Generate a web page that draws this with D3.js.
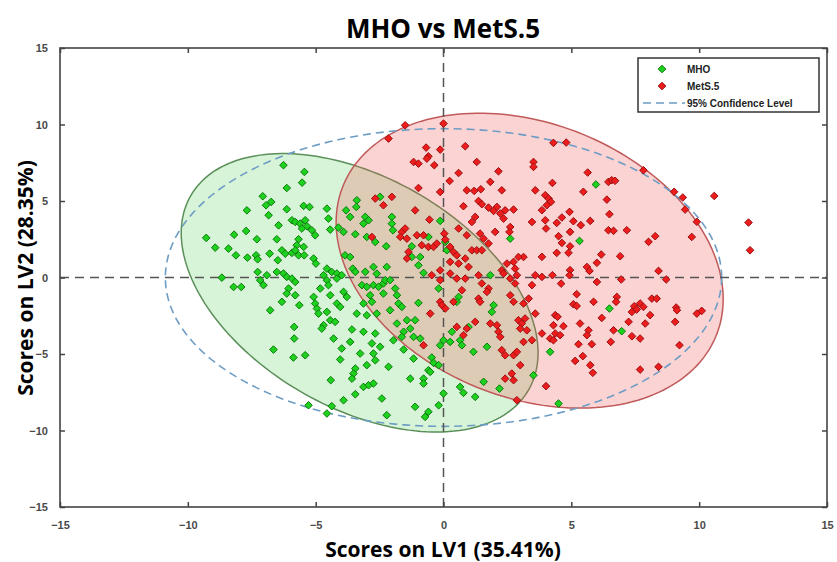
<!DOCTYPE html>
<html>
<head>
<meta charset="utf-8">
<script src="https://cdn.jsdelivr.net/npm/d3@7"></script>
<style>
  body { margin: 0; background: #fff; }
  svg { display: block; }
</style>
</head>
<body>
<div id="chart"></div>
<script>
var svgWidth = 837;
var svgHeight = 562;

// tick values on both axes
var xTicks = [-15, -10, -5, 0, 5, 10, 15];
var yTicks = [-15, -10, -5, 0, 5, 10, 15];

// legend entries
var legendLabels = ["MHO", "MetS.5", "95% Confidence Level"];

// ellipses: [cx, cy, sxx, syy, sxy] in score units
var mhoEllipse = [-3.28, -1.0, 48.7, 82.8, -27.3];
var metsEllipse = [3.37, 1.10, 57.3, 92.9, -19.0];
// 95% confidence: [cx, cy, radius LV1, radius LV2]
var confEllipse = [0, 0, 10.88, 9.73];

// scores [LV1, LV2]
var mhoScores = [
  [-6.26,7.34],[-5.44,6.90],[-5.53,6.20],[-6.13,5.85],[-7.07,5.31],[-6.74,4.94],[-6.94,4.72],[-7.69,4.39],
  [-6.84,4.07],[-6.13,4.46],[-5.47,4.68],[-5.24,4.61],[-4.56,4.50],[-4.50,3.85],[-3.81,4.39],[-3.65,3.96],
  [-3.39,5.05],[-3.41,4.61],[-6.45,3.41],[-5.93,3.74],[-5.80,3.63],[-5.61,3.52],[-5.41,3.74],[-5.34,3.35],
  [-5.54,3.20],[-5.15,3.09],[-5.02,2.76],[-4.43,3.13],[-4.11,3.26],[-3.91,2.98],[-3.45,2.83],[-9.28,2.59],
  [-8.19,2.80],[-7.72,3.04],[-7.30,2.50],[-6.52,2.50],[-5.67,2.50],[-5.74,2.11],[-5.47,2.00],[-8.93,1.95],
  [-8.41,1.89],[-8.12,1.45],[-7.67,1.30],[-7.33,1.45],[-7.27,1.19],[-6.80,1.56],[-6.32,1.78],[-6.19,1.56],
  [-5.93,1.61],[-5.80,1.78],[-5.67,1.45],[-5.45,1.45],[-6.48,1.13],[-5.08,1.24],[-4.99,0.91],[-4.56,0.58],
  [-4.37,0.36],[-4.17,0.26],[-3.85,1.45],[-3.65,1.34],[-3.55,0.58],[-7.27,0.36],[-6.91,0.15],[-6.52,0.36],
  [-6.26,0.26],[-6.13,0.04],[-5.93,-0.07],[-5.80,-0.29],[-8.67,-0.01],[-8.21,-0.62],[-7.91,-0.62],[-7.17,-0.18],
  [-4.69,0.15],[-4.56,-0.18],[-4.17,-0.07],[-3.98,0.15],
  [-7.04,-0.50],[-6.06,-0.72],[-6.13,-1.05],[-5.80,-1.16],[-6.32,-1.59],[-5.64,-1.81],[-6.78,-2.14],[-5.08,-1.27],
  [-4.82,-0.72],[-4.50,-0.50],[-4.43,-1.16],[-5.02,-1.70],[-4.95,-2.03],[-4.89,-2.36],[-4.56,-2.25],[-4.17,-1.70],
  [-4.04,-1.92],[-3.91,-0.94],[-3.78,-1.27],[-4.43,-2.79],[-4.24,-2.90],[-4.69,-3.12],[-4.76,-3.34],[-3.39,-2.36],
  [-3.58,-3.40],[-5.84,-3.23],[-5.84,-3.99],[-4.30,-3.99],[-3.65,-4.21],[-3.98,-4.64],[-6.65,-4.71],[-5.87,-5.23],
  [-5.41,-5.08],[-4.04,-5.36],[-3.45,-5.95],[-3.52,-6.28],[-3.58,-6.61],[-4.41,-6.71],[-3.45,-7.63],[-3.91,-8.02],
  [-4.37,-8.41],[-5.28,-8.35],[-4.56,-8.89],
  [-3.06,3.96],[-2.93,3.74],[-3.13,3.52],[-2.48,5.27],[-2.02,3.96],[-2.02,3.52],[-1.98,3.09],[-3.00,2.65],
  [-2.67,2.32],[-2.24,2.04],[-1.24,2.04],[-1.24,1.34],[-0.91,1.34],[-0.98,0.80],[-0.78,0.30],[-0.59,2.65],
  [-0.13,3.70],[0.07,2.32],[0.13,1.78],[-2.74,0.69],[-2.22,0.69],[-2.61,0.25],[2.61,2.54],
  [-3.45,0.37],[-3.06,0.37],[-3.19,-0.50],[-3.00,-0.61],[-2.74,-0.50],[-2.54,-0.61],[-2.35,-0.39],[-2.28,-0.17],
  [-2.09,-0.17],[-2.35,-1.05],[-1.89,-0.72],[-1.82,-1.16],[-2.87,-1.16],[-2.80,-1.59],[-3.13,-1.70],[-1.76,-1.70],
  [-1.63,-1.92],[-0.98,-1.66],[-0.19,-0.72],[-2.09,-2.14],[-3.00,-2.47],[-2.61,-2.36],[-1.82,-3.01],[-1.11,-2.79],
  [-1.43,-2.79],[-1.30,-3.34],[-3.13,-3.55],[-2.67,-3.66],[-1.56,-3.55],[-1.63,-3.88],[-1.96,-4.10],[-1.17,-3.88],
  [-0.91,-3.99],[-2.80,-4.31],[-2.48,-4.53],[-1.56,-4.71],[-3.26,-4.97],[-2.74,-4.97],[-2.67,-5.41],[-3.00,-5.73],
  [-1.17,-5.30],[-0.46,-5.23],[-0.39,-5.58],[-0.19,-5.73],[-0.59,-6.06],[-0.52,-6.17],[-0.13,-4.43],[0.00,-4.10],
  [0.33,-3.55],[0.26,-4.21],[0.65,-4.10],[0.72,-4.43],[0.59,-1.27],[0.52,-1.59],[0.98,-3.23],[1.17,-4.86],
  [1.70,-4.53],[1.96,-1.81],[1.89,-2.25],[1.83,0.15],[-3.13,-7.15],[-2.93,-7.04],[-2.74,-6.93],[-2.15,-5.84],
  [-1.30,-6.61],[-0.78,-6.61],[-0.78,-6.93],[0.00,-7.58],[0.65,-7.15],[0.78,-7.54],[1.24,-7.80],[1.57,-6.82],
  [2.19,-7.26],[-2.41,-7.91],[-1.11,-8.45],[-0.19,-8.35],[-0.59,-8.78],[-0.72,-9.11],[-2.22,-9.00],[3.52,-6.39],
  [5.96,6.08],[5.32,2.39],[6.49,-2.03],[6.97,-3.51],[4.17,-4.86],[4.50,-8.24]
];

var metsScores = [
  [-1.50,9.95],[0.00,10.06],[-2.15,9.08],[-0.68,8.49],[-0.13,8.36],[0.85,8.58],[-0.59,7.92],[-0.65,7.77],
  [-1.17,7.55],[-0.98,7.44],[-0.36,7.34],[1.30,7.55],[3.52,7.55],[3.52,7.23],[0.59,6.83],[2.15,6.94],
  [0.24,6.31],[1.83,6.25],[-0.98,5.85],[-0.13,5.59],[0.91,5.70],[1.20,5.66],[1.46,5.77],[2.28,5.70],
  [3.59,5.70],[-2.67,5.16],[-2.35,4.72],[-2.02,5.27],[1.37,5.00],[1.50,4.79],[0.78,4.66],[1.76,4.57],
  [2.09,4.61],[1.96,4.35],[2.41,4.39],[2.74,4.44],[2.22,4.18],[2.35,3.85],[3.46,3.63],[-1.11,4.39],
  [-0.55,3.78],[1.24,3.96],[1.11,3.63],[0.59,3.20],[0.91,2.76],[1.43,2.87],[1.57,2.54],[1.76,2.22],
  [2.02,2.98],[2.61,3.30],[2.58,2.98],[-1.63,2.98],[-1.50,3.20],[-1.43,2.54],[-1.69,2.65],[-2.80,2.65],
  [-1.04,2.76],[-0.78,2.76],[-0.85,2.11],[-0.59,2.00],[-0.39,2.00],[-0.26,2.22],[0.03,2.87],[0.07,2.48],
  [0.26,2.00],[0.39,1.67],[0.52,1.45],[0.26,1.02],[0.59,0.91],[0.85,1.24],[0.98,0.69],[-1.37,1.67],
  [-1.43,1.24],[1.11,1.78],[1.30,1.78],[1.50,1.78],[-0.13,0.47],[2.28,0.47],[2.48,0.91],[2.74,1.02],
  [2.80,0.58],[3.13,1.34],[2.93,1.34],
  [-0.46,0.15],[-0.13,-0.17],[0.26,0.26],[0.52,-0.07],[0.85,-0.07],[1.37,0.15],[1.50,-0.39],[1.76,-0.72],
  [1.70,-0.94],[2.35,0.26],[2.61,-0.07],[2.80,-0.39],[2.87,0.15],[3.59,0.15],[3.46,-0.50],[0.72,-0.83],
  [0.39,-1.59],[-0.13,-1.59],[-0.06,-1.81],[0.07,-2.03],[-0.52,-2.36],[1.37,-1.38],[1.43,-1.59],[2.61,-1.16],
  [2.74,-1.59],[3.13,-1.70],[3.33,-1.38],[3.59,-2.36],[1.24,-2.90],[0.52,-3.23],[0.91,-3.34],[0.78,-3.77],
  [1.83,-3.01],[2.09,-3.12],[2.15,-3.55],[2.22,-3.88],[2.93,-2.79],[3.06,-3.01],[3.19,-2.68],[3.00,-3.34],
  [3.26,-3.45],[3.13,-4.21],[2.28,-4.75],[2.41,-5.08],[2.74,-5.08],[2.87,-4.86],[3.00,-5.73],[2.67,-6.28],
  [2.74,-6.71],[2.41,-6.61],[2.87,-8.02],[-0.78,-4.43],[3.46,-4.10],
  [4.30,8.80],[4.80,8.82],[5.64,6.86],[4.26,6.18],[5.47,5.60],[6.45,6.25],[6.58,6.36],[6.71,6.32],
  [6.39,5.09],[7.82,7.01],[9.02,5.60],[9.36,5.23],[9.45,4.44],[9.91,3.64],[10.59,5.33],[11.93,3.59],
  [11.99,1.78],[9.71,2.65],[8.28,2.70],[8.02,2.33],[6.49,4.14],[6.45,3.09],[6.65,3.05],[7.17,3.09],
  [5.74,3.70],[5.37,3.42],[5.08,3.68],[4.93,4.29],[4.63,3.92],[4.43,3.57],[3.98,3.74],[4.01,3.20],
  [3.98,5.38],[4.11,5.16],[4.20,4.94],[4.04,4.72],[3.85,4.40],[4.95,2.98],[4.50,2.70],[4.63,2.26],
  [4.95,2.04],[4.43,1.61],[4.89,1.61],[3.85,1.35],[6.17,1.50],[6.00,0.96],[5.61,0.69],[5.71,0.43],
  [6.91,1.39],[4.95,0.48],[4.93,0.15],[4.26,0.15],[3.85,0.04],[4.60,-0.40],[6.00,-0.29],[6.95,-0.13],
  [8.71,-0.13],[8.41,0.43],
  [5.21,-1.09],[5.08,-1.75],[5.21,-1.86],[5.87,-1.59],[6.78,-1.27],[6.75,-1.59],[7.46,-1.88],[7.69,-1.70],
  [7.82,-1.92],[7.37,-2.25],[7.56,-2.09],[8.15,-1.38],[8.34,-1.38],[8.08,-2.46],[7.24,-2.90],[7.89,-3.01],
  [9.10,-1.96],[9.13,-2.14],[9.06,-2.90],[9.91,-2.36],[10.10,-2.18],[6.19,-2.64],[5.34,-3.01],[5.67,-3.45],
  [5.61,-3.77],[4.37,-2.46],[4.46,-2.57],[4.69,-3.18],[4.30,-3.12],[4.37,-3.66],[4.17,-3.99],[4.30,-4.10],
  [4.56,-3.77],[3.85,-3.66],[5.28,-4.36],[5.80,-4.36],[6.65,-3.45],[6.54,-4.21],[7.37,-3.84],[7.69,-3.99],
  [9.23,-4.42],[5.15,-5.45],[5.45,-5.14],[5.74,-5.73],[5.84,-6.23],[7.69,-6.02],[8.41,-5.84],[4.01,-7.10]
];

var plot = { left: 60, right: 827, top: 48, bottom: 507 };

var svg = d3.select("#chart")
    .append("svg")
    .attr("width", svgWidth)
    .attr("height", svgHeight);

var x = d3.scaleLinear().domain([-15, 15]).range([plot.left, plot.right]);
var y = d3.scaleLinear().domain([-15, 15]).range([plot.bottom, plot.top]);

// ellipse outline from centre + 2x2 matrix
function ellipsePoints(e) {
    var cx = e[0], cy = e[1], sxx = e[2], syy = e[3], sxy = e[4];
    var a = Math.sqrt(sxx), b = sxy / a, c = Math.sqrt(syy - b * b);
    return d3.range(0, 181).map(function (i) {
        var t = i / 180 * 2 * Math.PI;
        return [cx + a * Math.cos(t), cy + b * Math.cos(t) + c * Math.sin(t)];
    });
}

var line = d3.line()
    .x(d => x(d[0]))
    .y(d => y(d[1]))
    .curve(d3.curveLinearClosed);

// group ellipses
svg.append("path")
    .attr("d", line(ellipsePoints(mhoEllipse)))
    .attr("fill", "rgba(60,200,60,0.2)")
    .attr("stroke", "#5a8f5a")
    .attr("stroke-width", 1.5);

svg.append("path")
    .attr("d", line(ellipsePoints(metsEllipse)))
    .attr("fill", "rgba(240,80,80,0.25)")
    .attr("stroke", "#c05a5a")
    .attr("stroke-width", 1.5);

// 95% confidence ellipse
var confPts = d3.range(0, 181).map(function (i) {
    var t = i / 180 * 2 * Math.PI;
    return [confEllipse[0] + confEllipse[2] * Math.cos(t), confEllipse[1] + confEllipse[3] * Math.sin(t)];
});
svg.append("path")
    .attr("d", line(confPts))
    .attr("fill", "none")
    .attr("stroke", "#6d9cc4")
    .attr("stroke-width", 1.6)
    .attr("stroke-dasharray", "8,5");

// zero lines
svg.append("line")
    .attr("x1", x(0)).attr("x2", x(0))
    .attr("y1", plot.top).attr("y2", plot.bottom)
    .attr("stroke", "#555").attr("stroke-width", 1.5)
    .attr("stroke-dasharray", "9,6");
svg.append("line")
    .attr("x1", plot.left).attr("x2", plot.right)
    .attr("y1", y(0)).attr("y2", y(0))
    .attr("stroke", "#555").attr("stroke-width", 1.5)
    .attr("stroke-dasharray", "9,6");

// diamond marker
var diamond = "M0,-3.8L3.8,0L0,3.8L-3.8,0Z";

svg.append("g").selectAll("path")
    .data(mhoScores)
    .enter()
    .append("path")
    .attr("d", diamond)
    .attr("transform", d => `translate(${x(d[0])},${y(d[1])})`)
    .attr("fill", "#1fd11f")
    .attr("stroke", "#0a7a0a")
    .attr("stroke-width", 1);

svg.append("g").selectAll("path")
    .data(metsScores)
    .enter()
    .append("path")
    .attr("d", diamond)
    .attr("transform", d => `translate(${x(d[0])},${y(d[1])})`)
    .attr("fill", "#ee1d1d")
    .attr("stroke", "#9a1010")
    .attr("stroke-width", 1);

// frame
svg.append("rect")
    .attr("x", plot.left).attr("y", plot.top)
    .attr("width", plot.right - plot.left)
    .attr("height", plot.bottom - plot.top)
    .attr("fill", "none")
    .attr("stroke", "#444")
    .attr("stroke-width", 1.6);

// axes with inside ticks
var bottomAxis = d3.axisBottom(x).tickValues(xTicks).tickSize(-5).tickPadding(14);
var topAxis = d3.axisTop(x).tickValues(xTicks).tickSize(-5).tickFormat("");
var leftAxis = d3.axisLeft(y).tickValues(yTicks).tickSize(-5).tickPadding(12);
var rightAxis = d3.axisRight(y).tickValues(yTicks).tickSize(-5).tickFormat("");

function styleAxis(g) {
    g.select(".domain").remove();
    g.selectAll(".tick line").attr("stroke", "#444").attr("stroke-width", 1.5);
    g.selectAll(".tick text")
        .attr("fill", "#4a4a4a")
        .style("font-family", "Arial, 'Liberation Sans', sans-serif")
        .style("font-weight", "bold")
        .style("font-size", "11px");
}

svg.append("g").attr("transform", `translate(0,${plot.bottom})`).call(bottomAxis).call(styleAxis);
svg.append("g").attr("transform", `translate(0,${plot.top})`).call(topAxis).call(styleAxis);
svg.append("g").attr("transform", `translate(${plot.left},0)`).call(leftAxis).call(styleAxis);
svg.append("g").attr("transform", `translate(${plot.right},0)`).call(rightAxis).call(styleAxis);

// title and axis labels
svg.append("text")
    .attr("x", 443).attr("y", 38)
    .attr("text-anchor", "middle")
    .style("font-family", "'Open Sans', sans-serif")
    .style("font-weight", "bold")
    .style("font-size", "26px")
    .text("MHO vs MetS.5");

svg.append("text")
    .attr("x", 443).attr("y", 557)
    .attr("text-anchor", "middle")
    .style("font-family", "'Open Sans', sans-serif")
    .style("font-weight", "bold")
    .style("font-size", "21px")
    .text("Scores on LV1 (35.41%)");

svg.append("text")
    .attr("transform", "translate(33,278) rotate(-90)")
    .attr("text-anchor", "middle")
    .style("font-family", "'Open Sans', sans-serif")
    .style("font-weight", "bold")
    .style("font-size", "21px")
    .text("Scores on LV2 (28.35%)");

// legend
var legend = svg.append("g").attr("transform", "translate(638,58)");
legend.append("rect")
    .attr("width", 181).attr("height", 54)
    .attr("fill", "#fff")
    .attr("stroke", "#333")
    .attr("stroke-width", 1.5);

var legendColors = [["#1fd11f", "#0a7a0a"], ["#ee1d1d", "#9a1010"]];
legendLabels.forEach(function (lab, i) {
    var cy = 11 + i * 17;
    if (i < 2) {
        legend.append("path")
            .attr("d", diamond)
            .attr("transform", `translate(24,${cy})`)
            .attr("fill", legendColors[i][0])
            .attr("stroke", legendColors[i][1]);
    } else {
        legend.append("line")
            .attr("x1", 5).attr("x2", 47)
            .attr("y1", cy).attr("y2", cy)
            .attr("stroke", "#6d9cc4")
            .attr("stroke-width", 1.6)
            .attr("stroke-dasharray", "8,5");
    }
    legend.append("text")
        .attr("x", 49).attr("y", cy + 3.5)
        .style("font-family", "Arial, 'Liberation Sans', sans-serif")
        .style("font-weight", "bold")
        .style("font-size", "10px")
        .attr("fill", "#222")
        .text(lab);
});
</script>
</body>
</html>
